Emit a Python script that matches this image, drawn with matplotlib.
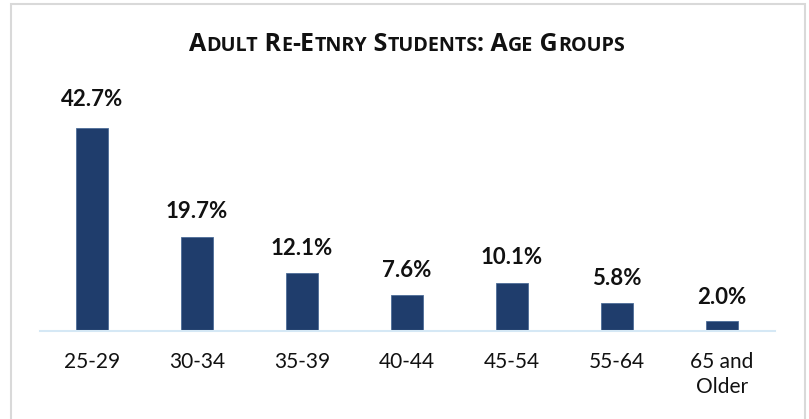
import matplotlib
matplotlib.use('Agg')
import matplotlib.pyplot as plt
from matplotlib.patches import Rectangle

# data
groups = ['25-29', '30-34', '35-39', '40-44', '45-54', '55-64', '65 and\nOlder']
shares = [42.7, 19.7, 12.1, 7.6, 10.1, 5.8, 2.0]

# title written as small caps: (text, is_capital)
title_parts = [('A', True), ('DULT', False), (' R', True), ('E', False), ('-E', True),
               ('TNRY', False), (' S', True), ('TUDENTS', False), (': A', True),
               ('GE', False), (' G', True), ('ROUPS', False)]

plt.rcParams['font.family'] = ['Lato', 'DejaVu Sans']

W, H = 809, 419
fig = plt.figure(figsize=(W / 100, H / 100), dpi=100)

# light grey chart border
fig.patches.append(Rectangle((10.5 / W, -0.01), 794 / W, 1 - 4.5 / H + 0.01,
                             transform=fig.transFigure, fill=False,
                             edgecolor='#d9d9d9', linewidth=1.5))

ax = fig.add_axes([39.5 / W, (H - 331) / H, 735 / W, 251 / H])
x = range(len(groups))
ax.bar(x, shares, width=0.3, color='#1f3d6c', edgecolor='#4d6d98', linewidth=0.6)
ax.set_xlim(-0.5, len(groups) - 0.5)
ax.set_ylim(0, 52.8)

for xi, v in zip(x, shares):
    ax.annotate(f'{v:.1f}%', (xi, v * 1.02), xytext=(0, 12.7), textcoords='offset points',
                ha='center', va='baseline', fontsize=16, fontweight='bold', color='#111111')

ax.set_xticks(list(x))
ax.set_xticklabels(groups, fontsize=15, color='#111111', linespacing=1.3)
ax.tick_params(axis='x', length=0, pad=15)
ax.set_yticks([])
for s in ['top', 'left', 'right']:
    ax.spines[s].set_visible(False)
ax.spines['bottom'].set_color('#d5e8f5')
ax.spines['bottom'].set_linewidth(1.5)

# small caps title: measure pieces then center them
renderer = fig.canvas.get_renderer()
pieces = []
total = 0
for txt, cap in title_parts:
    t = fig.text(0, 0, txt, fontsize=18 if cap else 14.2, fontweight='bold',
                 family=['Open Sans', 'DejaVu Sans'],
                 color='#111111', va='baseline', ha='left')
    w = t.get_window_extent(renderer).width
    pieces.append((t, w))
    total += w
xpos = 407 - total / 2
for t, w in pieces:
    t.set_position((xpos / W, (H - 51) / H))
    xpos += w

fig.savefig('out.png', dpi=100)
